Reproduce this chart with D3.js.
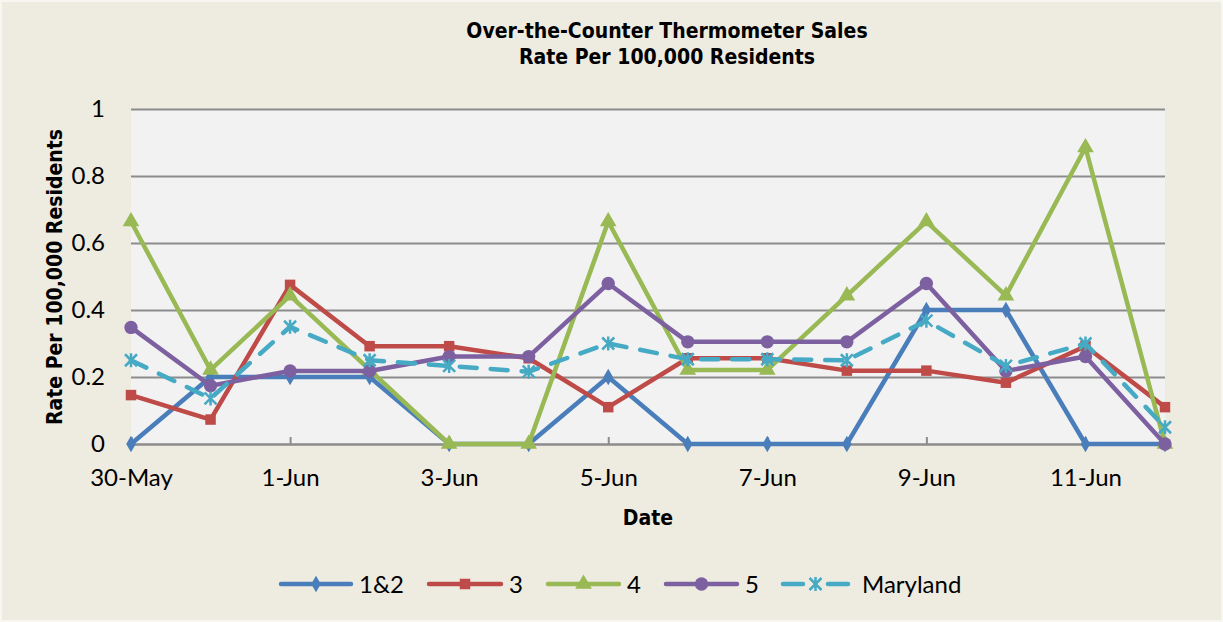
<!DOCTYPE html>
<html><head><meta charset="utf-8">
<script src="https://cdn.jsdelivr.net/npm/d3@7"></script>
<style>
html,body{margin:0;padding:0;background:#EEEBE0;}
svg{display:block;}
</style></head>
<body>
<script>
const dates = ["30-May","31-May","1-Jun","2-Jun","3-Jun","4-Jun","5-Jun","6-Jun","7-Jun","8-Jun","9-Jun","10-Jun","11-Jun","12-Jun"];
const tickLabels = ["30-May","1-Jun","3-Jun","5-Jun","7-Jun","9-Jun","11-Jun"];
const yTicks = [0,0.2,0.4,0.6,0.8,1];
const seriesNames = ["1&2","3","4","5","Maryland"];
const s12 = [0,0.2,0.2,0.2,0,0,0.2,0,0,0,0.4,0.4,0,0];
const s3  = [0.146,0.073,0.475,0.292,0.292,0.256,0.11,0.256,0.256,0.219,0.219,0.183,0.292,0.11];
const s4  = [0.664,0.221,0.443,0.221,0,0,0.664,0.221,0.221,0.443,0.664,0.443,0.885,0];
const s5  = [0.348,0.174,0.218,0.218,0.261,0.261,0.479,0.305,0.305,0.305,0.479,0.218,0.261,0];
const sMD = [0.25,0.136,0.35,0.25,0.233,0.216,0.30,0.253,0.253,0.25,0.368,0.233,0.30,0.05];
const seriesValues = [s12,s3,s4,s5,sMD];
const colors = ["#4A7EBB","#BE4B48","#98B954","#7D60A0","#46AAC5"];
const markers = ["diamond","square","triangle","circle","asterisk"];

const W=1223,H=622;
const L=131,R=1165,T=109,B=444;
const svg=d3.select("body").append("svg").attr("width",W).attr("height",H);
svg.append("rect").attr("width",W).attr("height",H).attr("fill","#EEEBE0");
svg.append("rect").attr("x",1).attr("y",1).attr("width",W-2).attr("height",H-2).attr("fill","none").attr("stroke","#F7F6F1").attr("stroke-width",2);

const x=d3.scalePoint().domain(dates).range([L,R]).padding(0);
const y=d3.scaleLinear().domain([0,1]).range([B,T]);

svg.append("rect").attr("x",L).attr("y",T).attr("width",R-L).attr("height",B-T).attr("fill","#F2F2F2");

// gridlines + y labels
const yAxis=d3.axisLeft(y).tickValues(yTicks).tickSize(-(R-L)).tickPadding(26).tickFormat(d=>d3.format("")(d));
const gy=svg.append("g").attr("transform",`translate(${L},0)`).call(yAxis);
gy.select(".domain").remove();
gy.selectAll(".tick line").attr("stroke","#8C8C8C").attr("stroke-width",2);
gy.selectAll(".tick text").attr("font-family","Lato, sans-serif").attr("font-size",24).attr("fill","#000");

// x axis
const xAxis=d3.axisBottom(x).tickValues(tickLabels).tickSize(-7).tickPadding(29);
const gx=svg.append("g").attr("transform",`translate(0,${B})`).call(xAxis);
gx.select(".domain").attr("stroke","#8C8C8C").attr("stroke-width",2);
gx.selectAll(".tick line").attr("stroke","#8C8C8C").attr("stroke-width",2);
gx.selectAll(".tick text").attr("font-family","Lato, sans-serif").attr("font-size",24).attr("fill","#000").attr("dy","0.55em");

// titles
const tf="'DejaVu Sans Condensed', 'DejaVu Sans', sans-serif";
svg.append("text").attr("x",667).attr("y",38).attr("text-anchor","middle").attr("font-family",tf).attr("font-weight","bold").attr("font-size",21).text("Over-the-Counter Thermometer Sales");
svg.append("text").attr("x",667).attr("y",64).attr("text-anchor","middle").attr("font-family",tf).attr("font-weight","bold").attr("font-size",21).text("Rate Per 100,000 Residents");
svg.append("text").attr("x",648).attr("y",525).attr("text-anchor","middle").attr("font-family",tf).attr("font-weight","bold").attr("font-size",21).text("Date");
svg.append("text").attr("transform","translate(62,277) rotate(-90)").attr("text-anchor","middle").attr("font-family",tf).attr("font-weight","bold").attr("font-size",21).text("Rate Per 100,000 Residents");

function drawMarker(g,type,cx,cy,color){
  if(type==="asterisk"){
    const r=6;
    g.append("path").attr("d",`M${cx-r},${cy-r}L${cx+r},${cy+r}M${cx-r},${cy+r}L${cx+r},${cy-r}M${cx},${cy-r-1}L${cx},${cy+r+1}`)
      .attr("stroke",color).attr("stroke-width",2.5).attr("fill","none");
    return;
  }
  const sym={diamond:d3.symbolDiamond,square:d3.symbolSquare,triangle:d3.symbolTriangle,circle:d3.symbolCircle}[type];
  const size={diamond:80,square:110,triangle:120,circle:140}[type];
  g.append("path").attr("d",d3.symbol().type(sym).size(size)()).attr("transform",`translate(${cx},${cy})`).attr("fill",color);
}

const line=d3.line().x((d,i)=>x(dates[i])).y(d=>y(d));
seriesValues.forEach((vals,si)=>{
  const g=svg.append("g");
  g.append("path").datum(vals).attr("d",line).attr("fill","none").attr("stroke",colors[si]).attr("stroke-width",4.5)
    .attr("stroke-linejoin","round").attr("stroke-linecap",si===4?"round":"butt")
    .attr("stroke-dasharray",si===4?"17,14":null);
  vals.forEach((v,i)=>drawMarker(g,markers[si],x(dates[i]),y(v),colors[si]));
});

// legend
const legX=[281,429,548,666,783];
const legLen=[70,72,71,71,65];
const ly=584;
seriesNames.forEach((n,si)=>{
  const g=svg.append("g");
  const x0=legX[si], x1=legX[si]+legLen[si];
  if(si===4){
    g.append("line").attr("x1",x0).attr("x2",x0+20).attr("y1",ly).attr("y2",ly).attr("stroke",colors[si]).attr("stroke-width",4.5).attr("stroke-linecap","round");
    g.append("line").attr("x1",x1-20).attr("x2",x1).attr("y1",ly).attr("y2",ly).attr("stroke",colors[si]).attr("stroke-width",4.5).attr("stroke-linecap","round");
  } else {
    g.append("line").attr("x1",x0).attr("x2",x1).attr("y1",ly).attr("y2",ly).attr("stroke",colors[si]).attr("stroke-width",4.5).attr("stroke-linecap","round");
  }
  drawMarker(g,markers[si],(x0+x1)/2,ly,colors[si]);
  g.append("text").attr("x",x1+(si===4?14:8)).attr("y",ly).attr("dy","0.36em").attr("font-family","Lato, sans-serif").attr("font-size",24).attr("fill","#000").text(n);
});
</script>
</body></html>
